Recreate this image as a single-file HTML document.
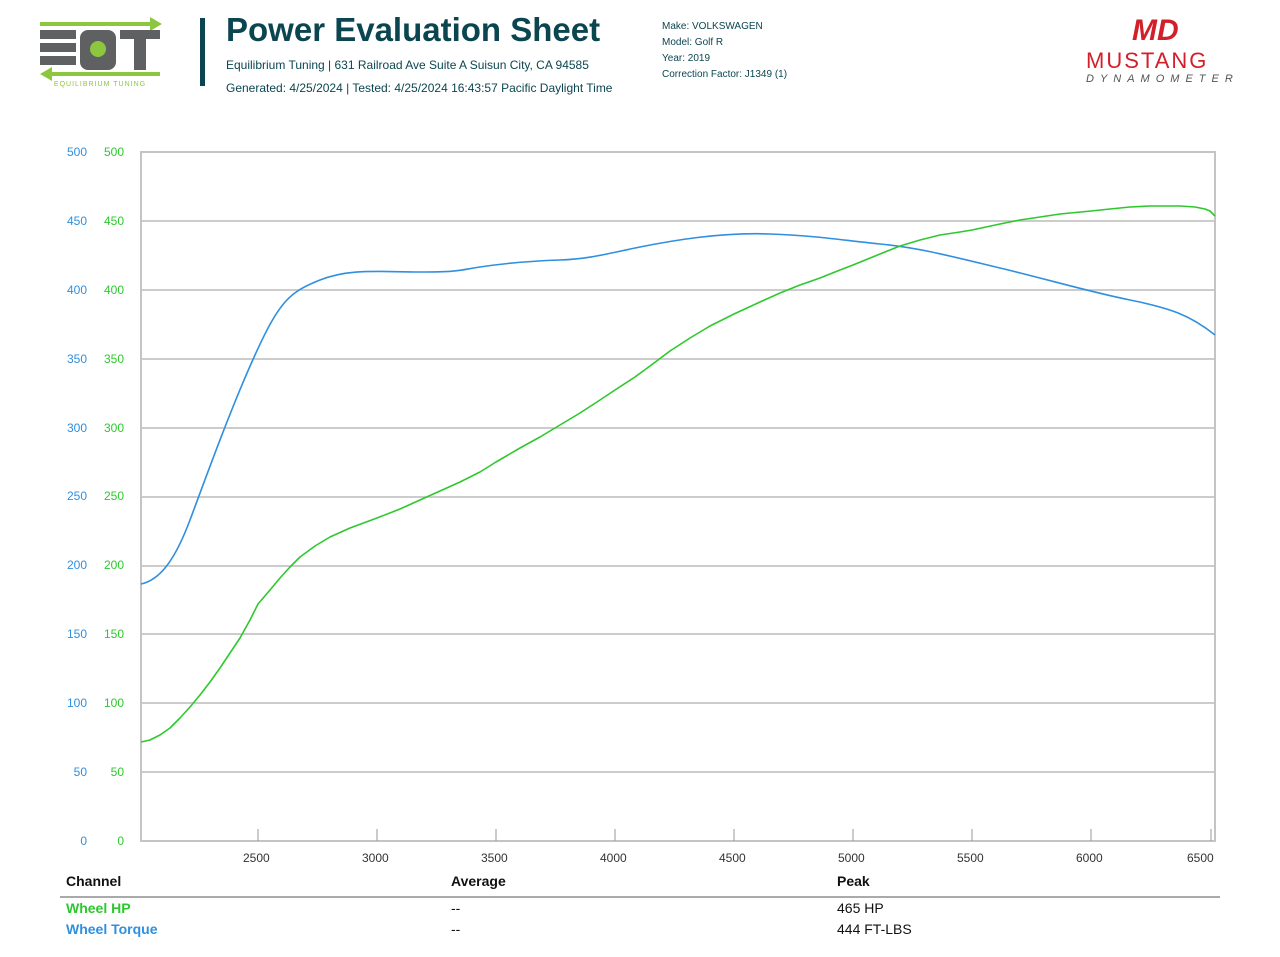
<!DOCTYPE html><html><head><style>
body{margin:0;width:1280px;height:957px;background:#fff;font-family:"Liberation Sans",sans-serif;position:relative;overflow:hidden}
.a{position:absolute;white-space:nowrap}
</style></head><body>
<svg width="1280" height="957" style="position:absolute;left:0;top:0">
<g>
<rect x="40" y="22" width="118" height="4" fill="#8dc63f"/>
<polygon points="150,17 162,24 150,31" fill="#8dc63f"/>
<rect x="40" y="30" width="36" height="9" fill="#5f6062"/>
<rect x="40" y="43" width="36" height="9" fill="#5f6062"/>
<rect x="40" y="56" width="36" height="9" fill="#5f6062"/>
<rect x="80" y="30" width="36" height="40" rx="8" fill="#5f6062"/>
<circle cx="98" cy="49" r="8" fill="#8dc63f"/>
<rect x="120" y="30" width="40" height="9" fill="#5f6062"/>
<rect x="134" y="30" width="12" height="40" fill="#5f6062"/>
<rect x="44" y="72" width="116" height="4" fill="#8dc63f"/>
<polygon points="52,67 40,74 52,81" fill="#8dc63f"/>
</g>
<text x="100" y="86" font-size="7" fill="#8dc63f" text-anchor="middle" letter-spacing="1">EQUILIBRIUM TUNING</text>
<rect x="200" y="18" width="5" height="68" fill="#0b4650"/>
<g stroke="#bcbcbc" stroke-width="1.5">
<line x1="141" y1="221" x2="1215" y2="221"/><line x1="141" y1="290" x2="1215" y2="290"/>
<line x1="141" y1="359" x2="1215" y2="359"/><line x1="141" y1="428" x2="1215" y2="428"/>
<line x1="141" y1="497" x2="1215" y2="497"/><line x1="141" y1="566" x2="1215" y2="566"/>
<line x1="141" y1="634" x2="1215" y2="634"/><line x1="141" y1="703" x2="1215" y2="703"/>
<line x1="141" y1="772" x2="1215" y2="772"/>
</g>
<rect x="141" y="152" width="1074" height="689" fill="none" stroke="#c4c4c4" stroke-width="2"/>
<g stroke="#999" stroke-width="1">
<line x1="258" y1="829" x2="258" y2="841"/><line x1="377" y1="829" x2="377" y2="841"/><line x1="496" y1="829" x2="496" y2="841"/><line x1="615" y1="829" x2="615" y2="841"/><line x1="734" y1="829" x2="734" y2="841"/><line x1="853" y1="829" x2="853" y2="841"/><line x1="972" y1="829" x2="972" y2="841"/><line x1="1091" y1="829" x2="1091" y2="841"/><line x1="1211" y1="829" x2="1211" y2="841"/>
</g>
<path d="M141,584 C160,580 175,560 190,520 S230,410 255,355 S290,292 320,280 S380,272 420,272 S460,270 480,267 S530,261 560,260 S610,253 640,247 S720,232 770,234 S840,240 880,244 S950,256 1000,268 S1090,292 1130,300 S1190,315 1215,335" fill="none" stroke="#2f8fe0" stroke-width="1.6"/>
<polyline points="141,742 150,740 160,735 170,728 180,718 190,707 200,695 210,682 220,668 230,653 240,638 250,620 258,604 270,590 280,578 290,567 300,557 315,546 330,537 350,528 377,518 400,509 420,500 440,491 460,482 480,472 496,462 520,448 540,437 560,425 580,413 600,400 615,390 635,377 650,366 670,351 690,338 710,326 734,314 760,302 780,293 800,285 820,278 840,270 853,265 880,254 900,246 920,240 940,235 960,232 972,230 1000,224 1020,220 1040,217 1060,214 1091,211 1110,209 1130,207 1150,206 1163,206 1180,206 1195,207 1205,209 1210,211 1215,216" fill="none" stroke="#2ec82e" stroke-width="1.6" stroke-linejoin="round"/>
<line x1="60" y1="897" x2="1220" y2="897" stroke="#aaa" stroke-width="2"/>
</svg>
<div class="a" style="left:226px;top:11px;font-size:33px;font-weight:bold;color:#0b4650">Power Evaluation Sheet</div>
<div class="a" style="left:226px;top:58px;font-size:12px;color:#0b4650">Equilibrium Tuning | 631 Railroad Ave Suite A Suisun City, CA 94585</div>
<div class="a" style="left:226px;top:81px;font-size:12px;color:#0b4650">Generated: 4/25/2024 | Tested: 4/25/2024 16:43:57 Pacific Daylight Time</div>
<div class="a" style="left:662px;top:19px;font-size:10px;line-height:16px;color:#0b4650">Make: VOLKSWAGEN<br>Model: Golf R<br>Year: 2019<br>Correction Factor: J1349 (1)</div>
<div class="a" style="left:1132px;top:14px;font-size:30px;font-weight:bold;color:#d2202a;font-style:italic">MD</div>
<div class="a" style="left:1086px;top:48px;font-size:22px;color:#d2202a;letter-spacing:2px">MUSTANG</div>
<div class="a" style="left:1086px;top:73px;font-size:11px;color:#555;font-style:italic;letter-spacing:6px">DYNAMOMETER</div>
<div style="position:absolute;left:0;top:0;font-size:12px">
<div class="a" style="left:62px;top:145px;color:#2f8fe0;width:25px;text-align:right">500</div><div class="a" style="left:99px;top:145px;color:#2ec82e;width:25px;text-align:right">500</div>
<div class="a" style="left:62px;top:214px;color:#2f8fe0;width:25px;text-align:right">450</div><div class="a" style="left:99px;top:214px;color:#2ec82e;width:25px;text-align:right">450</div>
<div class="a" style="left:62px;top:283px;color:#2f8fe0;width:25px;text-align:right">400</div><div class="a" style="left:99px;top:283px;color:#2ec82e;width:25px;text-align:right">400</div>
<div class="a" style="left:62px;top:352px;color:#2f8fe0;width:25px;text-align:right">350</div><div class="a" style="left:99px;top:352px;color:#2ec82e;width:25px;text-align:right">350</div>
<div class="a" style="left:62px;top:421px;color:#2f8fe0;width:25px;text-align:right">300</div><div class="a" style="left:99px;top:421px;color:#2ec82e;width:25px;text-align:right">300</div>
<div class="a" style="left:62px;top:489px;color:#2f8fe0;width:25px;text-align:right">250</div><div class="a" style="left:99px;top:489px;color:#2ec82e;width:25px;text-align:right">250</div>
<div class="a" style="left:62px;top:558px;color:#2f8fe0;width:25px;text-align:right">200</div><div class="a" style="left:99px;top:558px;color:#2ec82e;width:25px;text-align:right">200</div>
<div class="a" style="left:62px;top:627px;color:#2f8fe0;width:25px;text-align:right">150</div><div class="a" style="left:99px;top:627px;color:#2ec82e;width:25px;text-align:right">150</div>
<div class="a" style="left:62px;top:696px;color:#2f8fe0;width:25px;text-align:right">100</div><div class="a" style="left:99px;top:696px;color:#2ec82e;width:25px;text-align:right">100</div>
<div class="a" style="left:62px;top:765px;color:#2f8fe0;width:25px;text-align:right">50</div><div class="a" style="left:99px;top:765px;color:#2ec82e;width:25px;text-align:right">50</div>
<div class="a" style="left:62px;top:834px;color:#2f8fe0;width:25px;text-align:right">0</div><div class="a" style="left:99px;top:834px;color:#2ec82e;width:25px;text-align:right">0</div>
</div>
<div style="position:absolute;left:0;top:851px;font-size:12px;color:#333">
<div class="a" style="left:243px">2500</div><div class="a" style="left:362px">3000</div><div class="a" style="left:481px">3500</div><div class="a" style="left:600px">4000</div><div class="a" style="left:719px">4500</div><div class="a" style="left:838px">5000</div><div class="a" style="left:957px">5500</div><div class="a" style="left:1076px">6000</div><div class="a" style="left:1187px">6500</div>
</div>
<div class="a" style="left:66px;top:873px;font-size:14px;font-weight:bold;color:#111">Channel</div>
<div class="a" style="left:451px;top:873px;font-size:14px;font-weight:bold;color:#111">Average</div>
<div class="a" style="left:837px;top:873px;font-size:14px;font-weight:bold;color:#111">Peak</div>
<div class="a" style="left:66px;top:900px;font-size:14px;font-weight:bold;color:#2ec82e">Wheel HP</div>
<div class="a" style="left:451px;top:900px;font-size:14px;color:#111">--</div>
<div class="a" style="left:837px;top:900px;font-size:14px;color:#111">465 HP</div>
<div class="a" style="left:66px;top:921px;font-size:14px;font-weight:bold;color:#2f8fe0">Wheel Torque</div>
<div class="a" style="left:451px;top:921px;font-size:14px;color:#111">--</div>
<div class="a" style="left:837px;top:921px;font-size:14px;color:#111">444 FT-LBS</div>
</body></html>
